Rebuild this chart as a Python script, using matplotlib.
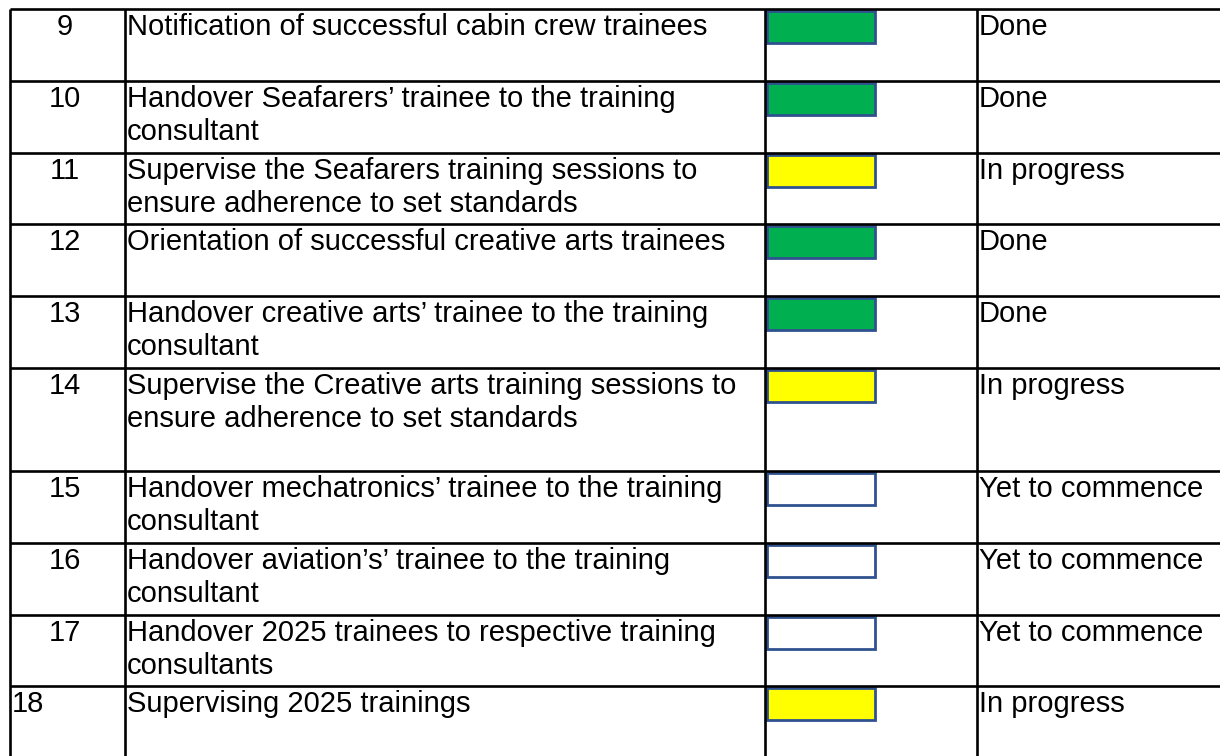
import matplotlib
matplotlib.use("Agg")
import matplotlib.pyplot as plt
from matplotlib.patches import Rectangle

plt.rcParams["font.family"] = ["Liberation Sans", "DejaVu Sans"]

# Table data
numbers = ["9", "10", "11", "12", "13", "14", "15", "16", "17", "18"]
tasks = [
    "Notification of successful cabin crew trainees",
    "Handover Seafarers\u2019 trainee to the training\nconsultant",
    "Supervise the Seafarers training sessions to\nensure adherence to set standards",
    "Orientation of successful creative arts trainees",
    "Handover creative arts\u2019 trainee to the training\nconsultant",
    "Supervise the Creative arts training sessions to\nensure adherence to set standards",
    "Handover mechatronics\u2019 trainee to the training\nconsultant",
    "Handover aviation\u2019s\u2019 trainee to the training\nconsultant",
    "Handover 2025 trainees to respective training\nconsultants",
    "Supervising 2025 trainings",
]
statuses = ["Done", "Done", "In progress", "Done", "Done", "In progress",
            "Yet to commence", "Yet to commence", "Yet to commence", "In progress"]

status_colors = {
    "Done": "#00B050",
    "In progress": "#FFFF00",
    "Yet to commence": "#FFFFFF",
}

# Layout (pixels)
W, H = 1220, 756
row_lines = [9, 81, 153, 224, 296, 368, 471, 543, 615, 686, 760]
col_lines = [10, 125, 765, 977]
fs = 21
line_gap = 33
base_off = 26

fig = plt.figure(figsize=(W / 100, H / 100), dpi=100)
ax = fig.add_axes([0, 0, 1, 1])
ax.set_xlim(0, W)
ax.set_ylim(H, 0)
ax.axis("off")

lw = 1.9
# horizontal lines (no bottom line visible)
for y in row_lines[:-1]:
    ax.plot([col_lines[0], W + 5], [y, y], color="black", lw=lw, solid_capstyle="butt")
# vertical lines
for x in col_lines:
    ax.plot([x, x], [row_lines[0], H + 5], color="black", lw=lw, solid_capstyle="butt")

for i, (num, task, status) in enumerate(zip(numbers, tasks, statuses)):
    top = row_lines[i]
    base = top + base_off
    # number column
    if num == "18":
        ax.text(col_lines[0] + 2, base, num, fontsize=fs, ha="left", va="baseline")
    else:
        ax.text(65, base, num, fontsize=fs, ha="center", va="baseline")
    # description
    for j, line in enumerate(task.split("\n")):
        ax.text(col_lines[1] + 2, base + j * line_gap, line, fontsize=fs,
                ha="left", va="baseline")
    # status box
    ax.add_patch(Rectangle((767, top + 2), 108, 32,
                           facecolor=status_colors[status],
                           edgecolor="#2F528F", lw=2))
    # status text
    ax.text(col_lines[3] + 2, base, status, fontsize=fs, ha="left", va="baseline")

fig.savefig("out.png", dpi=100)
